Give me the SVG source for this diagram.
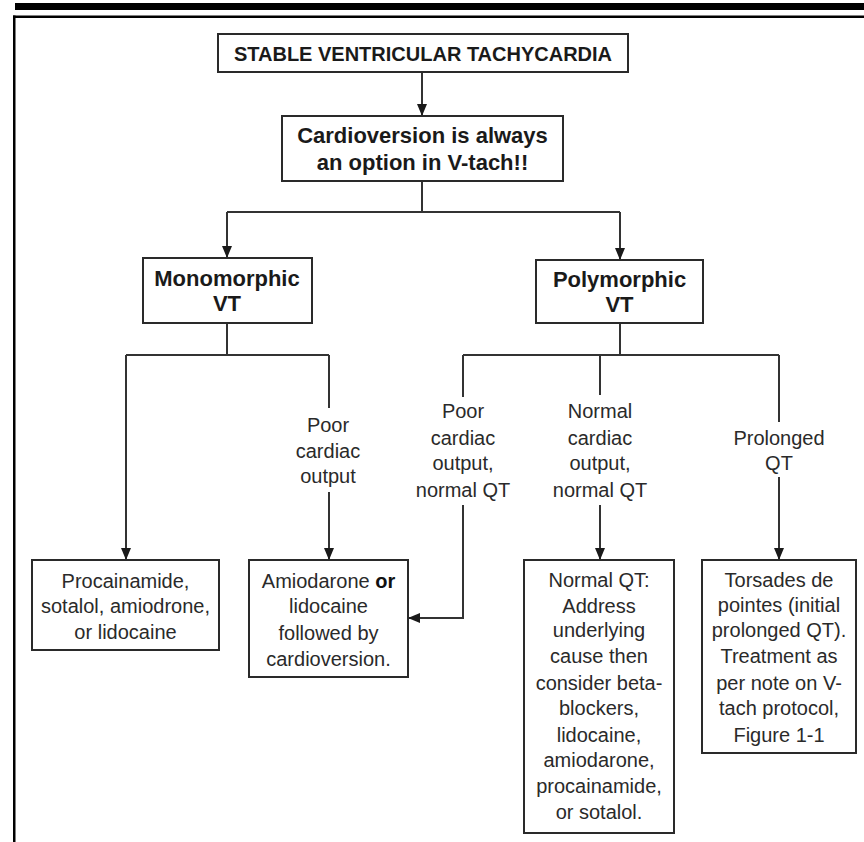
<svg xmlns="http://www.w3.org/2000/svg" width="864" height="842" viewBox="0 0 864 842">
<style>
.box{fill:#fff;stroke:#2a2a2a;stroke-width:2}
.b{font-family:"Liberation Sans",Arial,sans-serif;font-weight:bold;font-size:22px;fill:#1a1a1a;text-anchor:middle}
.t{font-family:"Liberation Sans",Arial,sans-serif;font-size:20px;fill:#2a2a2a;text-anchor:middle}
.c{fill:none;stroke:#333;stroke-width:2}
</style>
<defs>
<marker id="ah" viewBox="0 0 12 10" refX="12" refY="5" markerWidth="12" markerHeight="10" markerUnits="userSpaceOnUse" orient="auto">
<path d="M0,0 L12,5 L0,10 z" fill="#1a1a1a"/>
</marker>
</defs>
<rect width="864" height="842" fill="#fff"/>
<g id="frame">
<rect x="15" y="3" width="849" height="7" fill="#000"/>
<rect x="13" y="15.5" width="851" height="2.5" fill="#000"/>
<rect x="13" y="15.5" width="2.5" height="827" fill="#000"/>
</g>
<g id="connectors">
<path class="c" d="M422,72 V116" marker-end="url(#ah)"/>
<path class="c" d="M422,181 V212 M227,212 H620"/>
<path class="c" d="M227,212 V258" marker-end="url(#ah)"/>
<path class="c" d="M620,212 V260" marker-end="url(#ah)"/>
<path class="c" d="M227,323 V355 M126,355 H329 M329,355 V408"/>
<path class="c" d="M126,355 V560" marker-end="url(#ah)"/>
<path class="c" d="M329,492 V560" marker-end="url(#ah)"/>
<path class="c" d="M620,323 V355 M463,355 H779 M463,355 V397 M600,355 V395 M779,355 V422"/>
<path class="c" d="M463,505 V618 H408" marker-end="url(#ah)"/>
<path class="c" d="M600,505 V560" marker-end="url(#ah)"/>
<path class="c" d="M779,477 V560" marker-end="url(#ah)"/>
<g id="labels">
<text class="t" x="328" y="432">Poor</text>
<text class="t" x="328" y="458">cardiac</text>
<text class="t" x="328" y="483">output</text>
<text class="t" x="463" y="418">Poor</text>
<text class="t" x="463" y="445">cardiac</text>
<text class="t" x="463" y="470">output,</text>
<text class="t" x="463" y="497">normal QT</text>
<text class="t" x="600" y="418">Normal</text>
<text class="t" x="600" y="445">cardiac</text>
<text class="t" x="600" y="470">output,</text>
<text class="t" x="600" y="497">normal QT</text>
<text class="t" x="779" y="445">Prolonged</text>
<text class="t" x="779" y="470">QT</text>
</g>
</g>
<g id="stable">
<rect class="box" x="218" y="34" width="410" height="38"/>
<text class="b" x="423" y="61" style="font-size:20px">STABLE VENTRICULAR TACHYCARDIA</text>
</g>
<g id="cardioversion">
<rect class="box" x="282" y="116" width="281" height="65"/>
<text class="b" x="422.5" y="143">Cardioversion is always</text>
<text class="b" x="422.5" y="170">an option in V-tach!!</text>
</g>
<g id="monomorphic">
<rect class="box" x="143" y="258" width="169" height="65"/>
<text class="b" x="227" y="286">Monomorphic</text>
<text class="b" x="227" y="311">VT</text>
</g>
<g id="polymorphic">
<rect class="box" x="536" y="260" width="167" height="63"/>
<text class="b" x="619.5" y="287">Polymorphic</text>
<text class="b" x="619.5" y="312">VT</text>
</g>
<g id="procainamide">
<rect class="box" x="32" y="560" width="187" height="90"/>
<text class="t" x="125.5" y="588">Procainamide,</text>
<text class="t" x="125.5" y="613">sotalol, amiodrone,</text>
<text class="t" x="125.5" y="639">or lidocaine</text>
</g>
<g id="amiodarone">
<rect class="box" x="249" y="560" width="159" height="117"/>
<text class="t" x="328.5" y="588">Amiodarone <tspan font-weight="bold" fill="#111">or</tspan></text>
<text class="t" x="328.5" y="613">lidocaine</text>
<text class="t" x="328.5" y="640">followed by</text>
<text class="t" x="328.5" y="666">cardioversion.</text>
</g>
<g id="normalqt">
<rect class="box" x="524" y="560" width="150" height="273"/>
<text class="t" x="599" y="587">Normal QT:</text>
<text class="t" x="599" y="613">Address</text>
<text class="t" x="599" y="637">underlying</text>
<text class="t" x="599" y="663">cause then</text>
<text class="t" x="599" y="690">consider beta-</text>
<text class="t" x="599" y="715">blockers,</text>
<text class="t" x="599" y="742">lidocaine,</text>
<text class="t" x="599" y="767">amiodarone,</text>
<text class="t" x="599" y="793">procainamide,</text>
<text class="t" x="599" y="819">or sotalol.</text>
</g>
<g id="torsades">
<rect class="box" x="702" y="560" width="154" height="193"/>
<text class="t" x="779" y="587">Torsades de</text>
<text class="t" x="779" y="612">pointes (initial</text>
<text class="t" x="779" y="637">prolonged QT).</text>
<text class="t" x="779" y="663">Treatment as</text>
<text class="t" x="779" y="690">per note on V-</text>
<text class="t" x="779" y="715">tach protocol,</text>
<text class="t" x="779" y="742">Figure 1-1</text>
</g>
</svg>
